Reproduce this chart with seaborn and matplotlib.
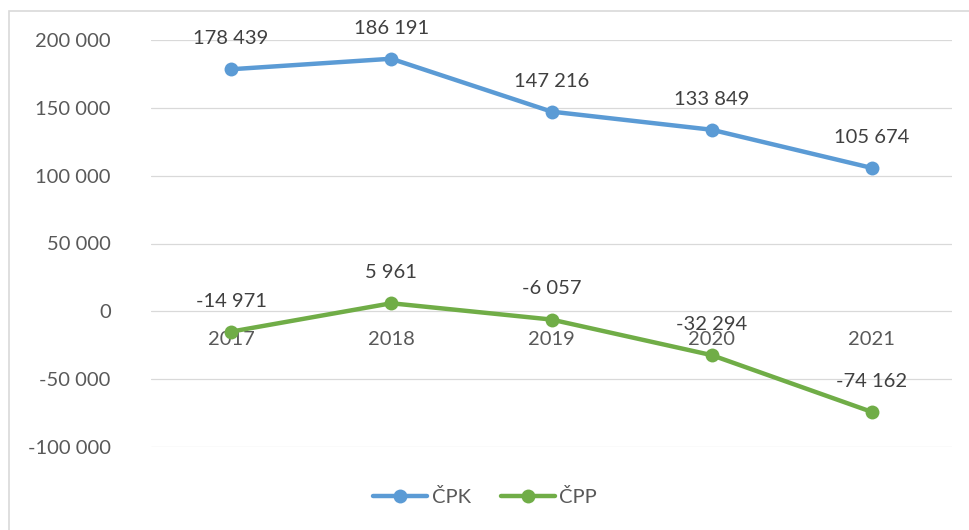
import pandas as pd
import matplotlib.pyplot as plt
import seaborn as sns
from matplotlib.patches import Rectangle
from matplotlib.lines import Line2D
from matplotlib.ticker import FuncFormatter, MultipleLocator

# data
years = ["2017", "2018", "2019", "2020", "2021"]
cpk = [178439, 186191, 147216, 133849, 105674]
cpp = [-14971, 5961, -6057, -32294, -74162]
series_names = ["ČPK", "ČPP"]
colors = {"ČPK": "#5B9BD5", "ČPP": "#70AD47"}

df = pd.concat([
    pd.DataFrame({"Rok": years, "Hodnota": cpk, "Řada": series_names[0]}),
    pd.DataFrame({"Rok": years, "Hodnota": cpp, "Řada": series_names[1]}),
])

sns.set_style("white")
plt.rcParams['font.family'] = ['Lato', 'DejaVu Sans']
fs = 14.5


def fmt(v):
    return f"{int(round(v)):,}".replace(",", " ")


fig = plt.figure(figsize=(9.7, 5.3), dpi=100)
ax = fig.add_axes([151 / 970, 83 / 530, 801 / 970, 407 / 530])

sns.lineplot(data=df, x="Rok", y="Hodnota", hue="Řada", palette=colors,
             marker="o", markersize=10, markeredgewidth=0, linewidth=3.2,
             legend=False, ax=ax, zorder=3)

ax.set_xlim(-0.5, len(years) - 0.5)
ax.set_ylim(-100000, 200000)
ax.yaxis.set_major_locator(MultipleLocator(50000))
ax.yaxis.set_major_formatter(FuncFormatter(lambda v, p: fmt(v)))
ax.grid(axis="y", color="#D9D9D9", linewidth=0.9, zorder=0)
ax.grid(axis="x", visible=False)

for s in ["top", "right", "left"]:
    ax.spines[s].set_visible(False)
ax.spines["bottom"].set_position(("data", 0))
ax.spines["bottom"].set_visible(False)
ax.tick_params(axis="y", length=0, pad=29, labelcolor="#595959", labelsize=fs)
ax.tick_params(axis="x", length=0, pad=14, labelcolor="#595959", labelsize=fs)
ax.set_xlabel("")
ax.set_ylabel("")

# data labels above points
for vals in (cpk, cpp):
    for i, v in enumerate(vals):
        ax.annotate(fmt(v), (i, v), xytext=(0, 22), textcoords="offset points",
                    ha="center", va="center", color="#404040", fontsize=fs, zorder=4)

# legend at bottom
handles = [Line2D([0], [0], color=colors[n], linewidth=3.2, marker="o",
                  markersize=10, markeredgewidth=0) for n in series_names]
fig.legend(handles, series_names, loc="center", bbox_to_anchor=(0.5, 33 / 530),
           ncol=2, frameon=False, handlelength=2.7, handletextpad=0.2,
           columnspacing=1.5, labelcolor="#595959", fontsize=fs)

# light outer frame
fig.patches.append(Rectangle((9.5 / 970, -0.1), 2, (530 - 10.5) / 530 + 0.1,
                             transform=fig.transFigure, fill=False,
                             edgecolor="#D9D9D9", linewidth=1.2))

fig.savefig("out.png", dpi=100)
